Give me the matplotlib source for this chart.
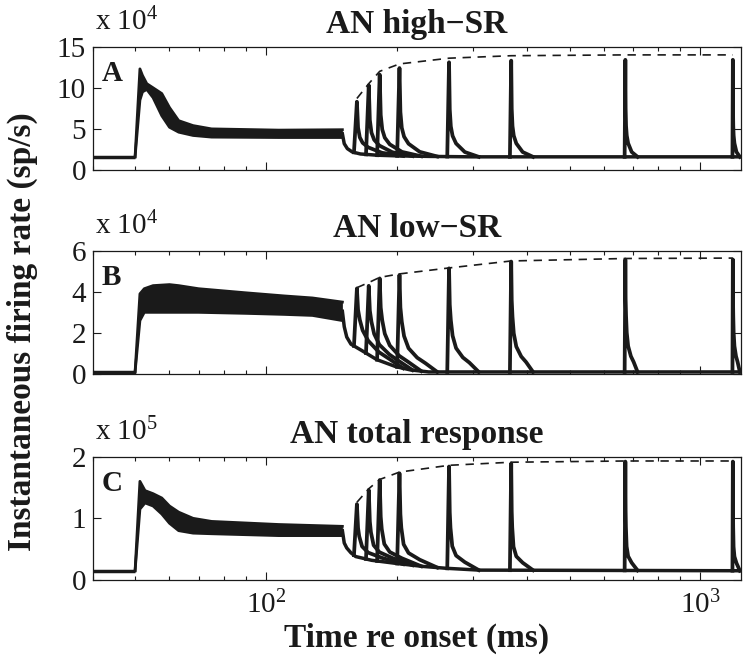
import numpy as np
import matplotlib.pyplot as plt
from matplotlib.ticker import LogLocator, NullFormatter, FixedLocator

plt.rcParams['font.family'] = ['Liberation Serif', 'DejaVu Serif']
plt.rcParams['mathtext.default'] = 'regular'

ink = '#1a1a1a'

# times of the probe response peaks (ms re onset), same in all panels
peak_t = [162, 172.5, 182.8, 203, 264, 367, 672, 1188]

# --- A: high-SR fibres, rate in 1e4 sp/s ---
A_base = 1.6
A_band_t = [50, 51.3, 52, 53.2, 55, 57.6, 60, 63, 68, 75, 107, 150]
A_band_hi = [1.6, 12.3, 11.5, 10.5, 10.0, 9.3, 7.6, 6.0, 5.4, 5.0, 4.85, 4.9]
A_band_lo = [1.6, 8.5, 9.5, 9.8, 8.8, 6.6, 5.2, 4.6, 4.2, 4.0, 3.95, 3.95]
A_rec_t = [150, 151.5, 154, 158, 165, 180, 200, 240, 300, 1240]
A_rec_v = [4.4, 3.2, 2.6, 2.2, 1.95, 1.8, 1.72, 1.65, 1.6, 1.6]
A_peak = [8.3, 10.3, 11.6, 12.4, 13.1, 13.3, 13.4, 13.4]
A_dash = [8.7, 10.5, 12.0, 12.9, 13.6, 13.9, 14.0, 14.0]
A_shape_dt = [-2.5, 0, 1, 2.5, 5, 10, 23, 45]
A_shape_f = [0, 1, 0.5, 0.32, 0.22, 0.14, 0.05, 0]

# --- B: low-SR fibres, rate in 1e4 sp/s ---
B_base = 0.1
B_band_t = [50, 51.3, 52.5, 55, 60, 63, 70, 90, 110, 128, 150]
B_band_hi = [0.1, 3.9, 4.15, 4.3, 4.35, 4.3, 4.15, 3.95, 3.8, 3.7, 3.5]
B_band_lo = [0.1, 2.6, 3.0, 3.0, 3.0, 3.0, 3.0, 2.95, 2.9, 2.85, 2.6]
B_rec_t = [150, 151.5, 153.5, 157, 166, 180, 199, 215, 237, 1240]
B_rec_v = [3.05, 2.3, 1.8, 1.45, 1.15, 0.7, 0.36, 0.2, 0.1, 0.1]
B_peak = [4.16, 4.29, 4.65, 4.82, 5.14, 5.47, 5.57, 5.57]
B_dash = [4.2, 4.45, 4.7, 4.87, 5.16, 5.5, 5.62, 5.64]
B_shape_dt = [-2.5, 0, 1, 2.5, 5, 10, 20, 30, 45]
B_shape_f = [0, 1, 0.65, 0.5, 0.35, 0.23, 0.14, 0.09, 0]

# --- C: total response, rate in 1e5 sp/s ---
C_base = 0.15
C_band_t = [50, 51.3, 52.7, 55, 57.6, 60, 63, 68, 75, 107, 150]
C_band_hi = [0.15, 1.6, 1.45, 1.4, 1.33, 1.2, 1.1, 1.0, 0.95, 0.9, 0.87]
C_band_lo = [0.15, 1.15, 1.25, 1.2, 1.07, 0.92, 0.8, 0.76, 0.75, 0.72, 0.72]
C_rec_t = [150, 151.5, 153.5, 157, 161, 175, 199, 230, 260, 310, 1240]
C_rec_v = [0.8, 0.6, 0.52, 0.44, 0.38, 0.32, 0.27, 0.22, 0.19, 0.16, 0.15]
C_peak = [1.23, 1.46, 1.62, 1.73, 1.84, 1.89, 1.92, 1.92]
C_dash = [1.26, 1.48, 1.63, 1.75, 1.86, 1.91, 1.93, 1.93]
C_shape_dt = [-2.5, 0, 1, 2, 4.5, 10, 23, 45]
C_shape_f = [0, 1, 0.55, 0.4, 0.22, 0.13, 0.07, 0]

titles = ['AN high\u2212SR', 'AN low\u2212SR', 'AN total response']
letters = ['A', 'B', 'C']
exps = ['4', '4', '5']
ymax = [15, 6, 2]
yticks = [[0, 5, 10, 15], [0, 2, 4, 6], [0, 1, 2]]

fig = plt.figure(figsize=(7.51, 6.63), dpi=100)
left, width, height = 0.1238, 0.8628, 0.186
bottoms = [0.7436, 0.4359, 0.1252]

panels = [
    (A_base, A_band_t, A_band_hi, A_band_lo, A_rec_t, A_rec_v, A_peak, A_dash, A_shape_dt, A_shape_f),
    (B_base, B_band_t, B_band_hi, B_band_lo, B_rec_t, B_rec_v, B_peak, B_dash, B_shape_dt, B_shape_f),
    (C_base, C_band_t, C_band_hi, C_band_lo, C_rec_t, C_rec_v, C_peak, C_dash, C_shape_dt, C_shape_f),
]

for i, (base, bt, bhi, blo, rt, rv, pk, dash, sdt, sf) in enumerate(panels):
    ax = fig.add_axes([left, bottoms[i], width, height])
    # baseline before onset
    ax.plot([40, 50], [base, base], color=ink, lw=2.5, solid_capstyle='butt')
    # masker response band (overlapping noisy traces)
    ax.fill_between(bt, blo, bhi, color=ink, lw=0)
    ax.plot(bt, bhi, color=ink, lw=2)
    ax.plot(bt, blo, color=ink, lw=2)
    # recovery after masker offset
    ax.plot(rt, rv, color=ink, lw=2.5)
    # recovery envelope
    ax.plot(peak_t, dash, color=ink, lw=1.2, dashes=(5, 4))
    # probe responses
    for tp, p in zip(peak_t, pk):
        ts = tp + np.array(sdt)
        under = np.interp(ts, rt, rv)
        amp = p - np.interp(tp, rt, rv)
        ax.plot(ts, under + amp * np.array(sf), color=ink, lw=2.7)

    ax.set_xscale('log')
    ax.set_xlim(40, 1240)
    ax.set_ylim(0, ymax[i])
    ax.set_yticks(yticks[i])
    ax.xaxis.set_major_locator(FixedLocator([100, 1000]))
    ax.xaxis.set_minor_locator(LogLocator(base=10, subs=np.arange(2, 10)))
    ax.xaxis.set_minor_formatter(NullFormatter())
    ax.tick_params(which='both', direction='in', top=True, right=True, width=0.8, colors=ink)
    ax.tick_params(which='major', length=6)
    ax.tick_params(which='minor', length=3)
    ax.tick_params(axis='y', labelsize=21, pad=5)
    ax.tick_params(axis='x', labelsize=21, pad=8)
    if i < 2:
        ax.set_xticklabels([])
    for s in ax.spines.values():
        s.set_linewidth(0.9)
        s.set_color(ink)

    ax.set_title(titles[i], fontsize=24, fontweight='bold', pad=10, color=ink)
    ax.text(0.003, 1.135, 'x 10$^{%s}$' % exps[i], transform=ax.transAxes,
            fontsize=21, va='baseline', ha='left', color=ink)
    ax.text(0.013, 0.89, letters[i], transform=ax.transAxes, fontsize=21,
            fontweight='bold', va='top', ha='left', color=ink)

    if i == 2:
        ax.set_xlabel('Time re onset (ms)', fontsize=24, fontweight='bold', color=ink, labelpad=2)

fig.text(0.03, 0.5, 'Instantaneous firing rate (sp/s)', rotation=90, fontsize=24,
         fontweight='bold', va='center', ha='center', color=ink)

fig.savefig('out.png', dpi=100)
